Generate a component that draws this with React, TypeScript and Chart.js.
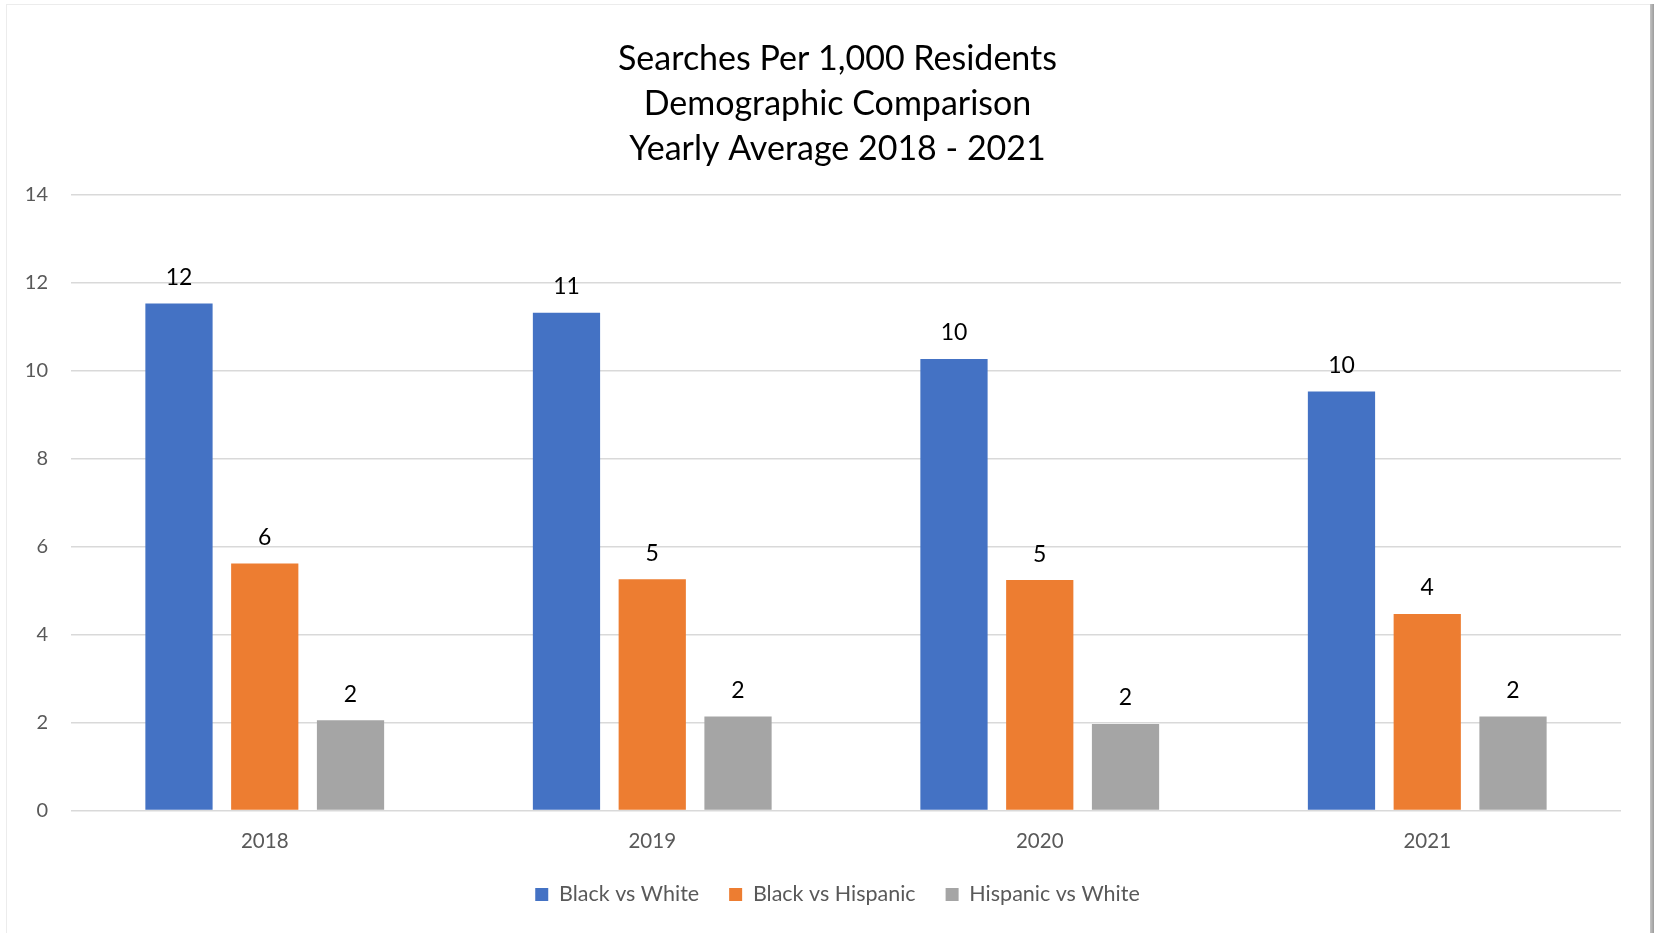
import React, { useEffect, useRef } from "react";
import { Chart, registerables } from "chart.js";

Chart.register(...registerables);

const categories = ["2018", "2019", "2020", "2021"];
const seriesNames = ["Black vs White", "Black vs Hispanic", "Hispanic vs White"];
const blackVsWhite = [11.53, 11.32, 10.27, 9.53];
const blackVsHispanic = [5.62, 5.26, 5.24, 4.47];
const hispanicVsWhite = [2.05, 2.14, 1.97, 2.14];
const seriesColors = ["#4472C4", "#ED7D31", "#A5A5A5"];
const titleLines = [
  "Searches Per 1,000 Residents",
  "Demographic Comparison",
  "Yearly Average 2018 - 2021",
];
const yMin = 0;
const yMax = 14;
const yStep = 2;

const FONT = "Lato";

const dataLabelPlugin = {
  id: "dataLabels",
  afterDatasetsDraw(chart: any) {
    const ctx = chart.ctx;
    ctx.save();
    ctx.font = `23px ${FONT}`;
    ctx.fillStyle = "#000000";
    ctx.textAlign = "center";
    ctx.textBaseline = "middle";
    chart.data.datasets.forEach((ds: any, i: number) => {
      const meta = chart.getDatasetMeta(i);
      meta.data.forEach((bar: any, j: number) => {
        const v = ds.data[j] as number;
        ctx.fillText(String(Math.round(v)), bar.x, bar.y - 26);
      });
    });
    ctx.restore();
  },
};

export default function App() {
  const ref = useRef<HTMLCanvasElement | null>(null);

  useEffect(() => {
    document.body.style.margin = "0";
    const canvas = ref.current;
    if (!canvas) return;
    const values = [blackVsWhite, blackVsHispanic, hispanicVsWhite];
    const chart = new Chart(canvas, {
      type: "bar",
      data: {
        labels: categories,
        datasets: seriesNames.map((name, i) => ({
          label: name,
          data: values[i],
          backgroundColor: seriesColors[i],
          borderWidth: 0,
          categoryPercentage: 0.664,
          barPercentage: 0.784,
          yAxisID: "y",
        })),
      },
      options: {
        animation: false,
        responsive: false,
        maintainAspectRatio: false,
        devicePixelRatio: 1,
        layout: { padding: { left: 26, right: 5, top: 36, bottom: 17.75 } },
        plugins: {
          title: {
            display: true,
            text: titleLines,
            color: "#000000",
            font: { family: FONT, size: 34, weight: "normal", lineHeight: 1.335 },
            padding: { top: 0, bottom: 22.8 },
          },
          legend: {
            display: true,
            position: "bottom",
            labels: {
              boxWidth: 13,
              boxHeight: 13,
              color: "#595959",
              font: { family: FONT, size: 21.5 },
              padding: 30,
            },
          },
          tooltip: { enabled: false },
        },
        scales: {
          x: {
            grid: { display: false, drawTicks: false },
            border: { display: false },
            ticks: {
              color: "#595959",
              font: { family: FONT, size: 20.5, lineHeight: 1.0 },
              padding: 21,
            },
            afterFit(scale: any) {
              scale.height = 43.25;
            },
          },
          y: {
            position: "left",
            min: yMin,
            max: yMax,
            ticks: {
              stepSize: yStep,
              color: "#595959",
              font: { family: FONT, size: 20 },
              padding: 23,
            },
            grid: { color: "#D9D9D9", lineWidth: 1.4, drawTicks: false },
            border: { display: false },
            afterFit(scale: any) {
              scale.width = 45;
            },
          },
          y2: {
            position: "right",
            display: true,
            min: yMin,
            max: yMax,
            ticks: { display: false },
            grid: { display: false, drawTicks: false },
            border: { display: false },
            afterFit(scale: any) {
              scale.width = 28;
            },
          },
        },
      },
      plugins: [dataLabelPlugin],
    });
    return () => chart.destroy();
  }, []);

  return (
    <div style={{ position: "relative", width: 1654, height: 933, background: "#ffffff", overflow: "hidden" }}>
      <canvas ref={ref} width={1654} height={933} style={{ display: "block", width: 1654, height: 933 }} />
      <div
        style={{
          position: "absolute",
          left: 6,
          top: 4,
          width: 1644,
          height: 950,
          border: "1px solid #ececec",
          pointerEvents: "none",
        }}
      />
      <div
        style={{
          position: "absolute",
          left: 1650,
          top: 4,
          width: 4,
          height: 929,
          background: "linear-gradient(to right, #c4c4c4, #9c9c9c)",
          pointerEvents: "none",
        }}
      />
    </div>
  );
}
